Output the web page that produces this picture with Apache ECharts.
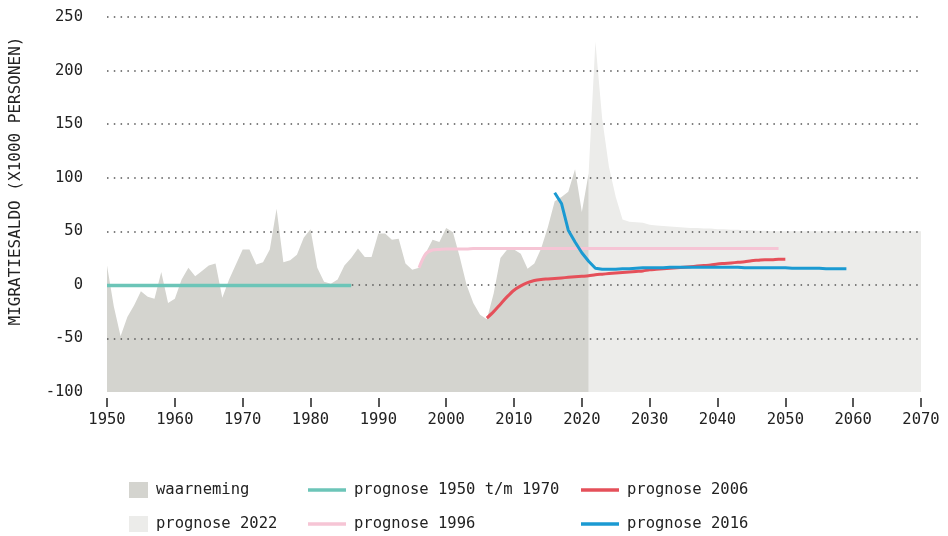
<!DOCTYPE html>
<html>
<head>
<meta charset="utf-8">
<title>Migratiesaldo</title>
<script src="https://cdn.jsdelivr.net/npm/echarts@6/dist/echarts.min.js"></script>
<style>
  html, body { margin: 0; padding: 0; background: #fff; }
  #main { width: 948px; height: 536px; }
</style>
</head>
<body>
<div id="main"></div>
<script>
    // waarneming 1950 - 2021 (x1000 personen)
    var waarnemingStart = 1950;
    var waarneming = [
        18, -20, -48, -30, -19, -6, -11, -13, 12, -17,
        -13, 5, 16, 8, 13, 18, 20, -12, 5, 19,
        33, 33, 19, 21, 33, 71, 21, 23, 28, 44,
        52, 16, 3, 1, 5, 18, 25, 34, 26, 26,
        48, 48, 42, 43, 20, 14, 16, 30, 42, 40,
        53, 49, 26, 0, -17, -28, -32, -8, 25, 33,
        33, 29, 15, 20, 34, 54, 78, 82, 87, 108,
        68, 104
    ];

    // prognose 2022: 2021 - 2070
    var prognose2022Start = 2021;
    var prognose2022 = [
        104, 227, 155, 110, 82, 61, 59, 58.5, 58, 56,
        55.5, 55, 54.5, 54, 53.5, 53, 53, 52.5, 52.5, 52,
        52, 51.5, 51.5, 51, 51, 50.5, 50.5, 50, 50, 50,
        50, 50, 50, 50, 50, 50, 50, 50, 50, 50,
        50, 50, 50, 50, 50, 50, 50, 50, 50, 50
    ];

    // prognose 1950 t/m 1970: 1950 - 1986
    var prognose1950Start = 1950;
    var prognose1950 = [
        -0.5, -0.5, -0.5, -0.5, -0.5, -0.5, -0.5, -0.5, -0.5, -0.5,
        -0.5, -0.5, -0.5, -0.5, -0.5, -0.5, -0.5, -0.5, -0.5, -0.5,
        -0.5, -0.5, -0.5, -0.5, -0.5, -0.5, -0.5, -0.5, -0.5, -0.5,
        -0.5, -0.5, -0.5, -0.5, -0.5, -0.5, -0.5
    ];

    // prognose 1996: 1996 - 2049
    var prognose1996Start = 1996;
    var prognose1996 = [
        16, 29, 32.5, 33, 33.5, 33.5, 33.5, 33.5, 34, 34,
        34, 34, 34, 34, 34, 34, 34, 34, 34, 34,
        34, 34, 34, 34, 34, 34, 34, 34, 34, 34,
        34, 34, 34, 34, 34, 34, 34, 34, 34, 34,
        34, 34, 34, 34, 34, 34, 34, 34, 34, 34,
        34, 34, 34, 34
    ];

    // prognose 2006: 2006 - 2050
    var prognose2006Start = 2006;
    var prognose2006 = [
        -31, -25, -18, -11, -5, -1, 2, 4, 5, 5.5,
        6, 6.5, 7, 7.5, 8, 8.5, 9.5, 10, 10.5, 11,
        11.5, 12, 12.5, 13, 14, 14.5, 15, 15.5, 16, 16.5,
        17, 17.5, 18, 18.5, 19.5, 20, 20.5, 21, 21.5, 22.5,
        23, 23.5, 23.5, 24, 24
    ];

    // prognose 2016: 2016 - 2059
    var prognose2016Start = 2016;
    var prognose2016 = [
        86, 76, 51, 40, 30, 22, 15.5, 14.5, 14.5, 14.5,
        15, 15, 15.5, 16, 16, 16, 16, 16.5, 16.5, 16.5,
        16.5, 16.5, 16.5, 16.5, 16.5, 16.5, 16.5, 16.5, 16, 16,
        16, 16, 16, 16, 16, 15.5, 15.5, 15.5, 15.5, 15.5,
        15, 15, 15, 15
    ];

    var yTicks = [-100, -50, 0, 50, 100, 150, 200, 250];
    var xTicks = [1950, 1960, 1970, 1980, 1990, 2000, 2010, 2020, 2030, 2040, 2050, 2060, 2070];

    function pairs(start, values) {
        return values.map(function (v, i) { return [start + i, v]; });
    }

    var mono = '"DejaVu Sans Mono", "Liberation Mono", monospace';
    var textColor = '#222';

    var myChart = echarts.init(document.getElementById('main'));

    function legendAt(name, left, top, isArea) {
        return {
            data: [name],
            left: left,
            top: top,
            padding: 0,
            icon: 'rect',
            itemWidth: isArea ? 19 : 38,
            itemHeight: isArea ? 16 : 3.5,
            selectedMode: false,
            textStyle: {
                fontFamily: mono,
                fontSize: 15.5,
                color: textColor,
                lineHeight: 20,
                padding: [0, 0, 0, 3]
            }
        };
    }

    var option = {
        animation: false,
        grid: {
            left: 107,
            right: 27,
            top: 17,
            bottom: 144,
            containLabel: false
        },
        legend: [
            legendAt('waarneming', 129, 480, true),
            legendAt('prognose 2022', 129, 514, true),
            legendAt('prognose 1950 t/m 1970', 308, 480, false),
            legendAt('prognose 1996', 308, 514, false),
            legendAt('prognose 2006', 581, 480, false),
            legendAt('prognose 2016', 581, 514, false)
        ],
        graphic: [{
            type: 'text',
            x: 16,
            y: 181,
            rotation: Math.PI / 2,
            style: {
                text: 'MIGRATIESALDO (X1000 PERSONEN)',
                font: '16px "DejaVu Sans Mono", monospace',
                fill: textColor,
                align: 'center',
                verticalAlign: 'middle'
            }
        }],
        xAxis: {
            type: 'value',
            min: xTicks[0],
            max: xTicks[xTicks.length - 1],
            interval: 10,
            offset: 6,
            axisLine: { show: false, onZero: false },
            axisTick: { show: true, length: 9, lineStyle: { color: '#222', width: 1.5 } },
            axisLabel: {
                margin: 14,
                fontFamily: mono,
                fontSize: 15.5,
                color: textColor,
                formatter: function (v) { return String(v); }
            },
            splitLine: { show: false }
        },
        yAxis: {
            type: 'value',
            min: yTicks[0],
            max: yTicks[yTicks.length - 1],
            interval: 50,
            axisLine: { show: false },
            axisTick: { show: false },
            axisLabel: {
                margin: 24,
                fontFamily: mono,
                fontSize: 15.5,
                color: textColor
            },
            splitLine: {
                show: true,
                lineStyle: {
                    color: ['rgba(0,0,0,0)', '#555', '#555', '#555', '#555', '#555', '#555', '#555'],
                    width: 1.5,
                    type: [1.5, 5.3]
                }
            }
        },
        series: [
            {
                name: 'prognose 2022',
                type: 'line',
                z: -1,
                symbol: 'none',
                color: '#ececea',
                lineStyle: { width: 0 },
                areaStyle: { color: '#ececea', opacity: 1, origin: 'start' },
                data: pairs(prognose2022Start, prognose2022)
            },
            {
                name: 'waarneming',
                type: 'line',
                z: -1,
                symbol: 'none',
                color: '#d4d4cf',
                lineStyle: { width: 0 },
                areaStyle: { color: '#d4d4cf', opacity: 1, origin: 'start' },
                data: pairs(waarnemingStart, waarneming)
            },
            {
                name: 'prognose 1950 t/m 1970',
                type: 'line',
                symbol: 'none',
                color: '#6cc5b8',
                lineStyle: { width: 3.5, color: '#6cc5b8' },
                data: pairs(prognose1950Start, prognose1950)
            },
            {
                name: 'prognose 1996',
                type: 'line',
                symbol: 'none',
                smooth: 0.3,
                color: '#f6c5d5',
                lineStyle: { width: 3, color: '#f6c5d5' },
                data: pairs(prognose1996Start, prognose1996)
            },
            {
                name: 'prognose 2006',
                type: 'line',
                symbol: 'none',
                smooth: 0.3,
                color: '#e5505a',
                lineStyle: { width: 3, color: '#e5505a' },
                data: pairs(prognose2006Start, prognose2006)
            },
            {
                name: 'prognose 2016',
                type: 'line',
                symbol: 'none',
                color: '#1b9ad2',
                lineStyle: { width: 3, color: '#1b9ad2' },
                data: pairs(prognose2016Start, prognose2016)
            }
        ]
    };
    myChart.setOption(option);
</script>
</body>
</html>
